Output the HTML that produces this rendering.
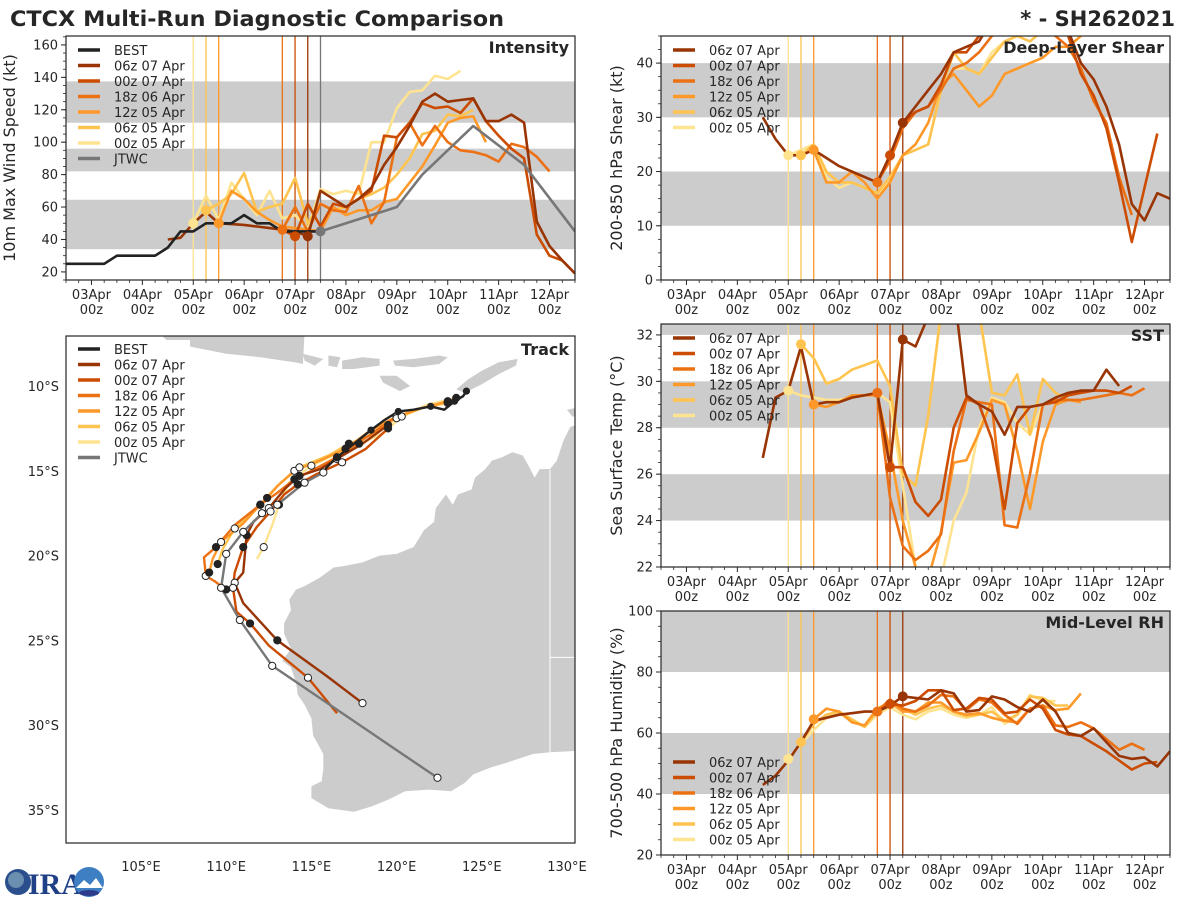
<!DOCTYPE html>
<html><head><meta charset="utf-8"><title>CTCX Multi-Run Diagnostic Comparison</title>
<style>
html,body{margin:0;padding:0;background:#fff;}
svg{display:block;font-family:"DejaVu Sans","Liberation Sans",sans-serif;}
</style></head>
<body>
<svg id="chart" width="1200" height="900" viewBox="0 0 1200 900" xmlns="http://www.w3.org/2000/svg">
<text x="10" y="26" font-size="21" font-weight="bold" fill="#262626" textLength="494" lengthAdjust="spacingAndGlyphs">CTCX Multi-Run Diagnostic Comparison</text>
<text x="1175" y="26" font-size="21" font-weight="bold" fill="#262626" text-anchor="end">* - SH262021</text>
<g id="layer"></g>
<g>
<circle cx="18" cy="882" r="13" fill="#2b4f8c"/>
<circle cx="16" cy="880" r="8" fill="#6a8fb0"/>
<text x="28" y="894" font-size="30" font-weight="bold" fill="#1f3f86" font-family="Liberation Serif,serif">IRA</text>
<circle cx="89" cy="882" r="15" fill="#3d7fc2"/>
<path d="M76 888 L84 880 L90 885 L96 878 L103 888 Z" fill="#fff"/>
<ellipse cx="89" cy="893" rx="10" ry="3" fill="#2d3c8a"/>
</g>
</svg>
<script>
// ---------- time-series data (t = days since 03Apr 00z, 6-hourly) ----------
const runNames = ["06z 07 Apr","00z 07 Apr","18z 06 Apr","12z 05 Apr","06z 05 Apr","00z 05 Apr"];
const runColors = ["#993404","#cc4c02","#ec7014","#fe9929","#fec44f","#fee391"];
const runInit = [4.25, 4.0, 3.75, 2.5, 2.25, 2.0];
const intStart = [1.5, 3.75, 3.75, 2.5, 2.25, 2.0];
const intRun1 = [40,41,50,57,50,49.5,49,48,47,46,45,42,70,65,60,65,72,86,97,110,125,130,125,126,127,113,113,117,112,51,36,27,19];
const intRun2 = [46,42,62,48,62,60,65,70,104,103,112,124,121,122,118,127,113,104,96,90,43,30,27,19];
const intRun3 = [46,60,45,62,58,57,73,50,63,103,112,98,110,100,95,94,92,88,99,97,91,82];
const intRun4 = [50,70,65,57,52,48,47,46,45,60,55,58,58,63,65,75,85,98,112,115,116,100];
const intRun5 = [58,62,68,81,57,60,62,78,50,62,58,60,65,68,72,80,90,105,107,117,116,120];
const intRun6 = [50,67,52,75,65,55,70,53,55,47,71,68,70,68,100,100,121,131,132,141,139,144];
const bestStart = -0.5;
const bestInt = [25,25,25,25,30,30,30,30,35,45,45,50,50,50,55,50,50,45,45,45,45];
const jtwcTimes = [4.5,5,6,6.5,7.5,8.5,9.5];
const jtwcInt = [45,50,60,80,110,86,45];

const shrStart = [1.5, 3.75, 3.75, 2.5, 2.25, 2.0];
const shrRun1 = [30,26,23,23,24,22.5,21,20,19,18,23,29,32,35,38,42,43,44,48,50,50,50,50,50,46,40,37,32,25,14,11,16,15];
const shrRun2 = [18,23,29,31,32,36,42,42,45,48,50,50,50,50,50,45,38,34,28,18,7,17,27];
const shrRun3 = [18,22,28,31,32,35,39,40,42,45,48,50,48,47,45,43,39,33,29,19,12];
const shrRun4 = [24,18,18,20,18,15,18,23,25,29,36,38,35,32,34,38,39,40,41,43,43,45];
const shrRun5 = [23,25,20,18,18,17,16,19,23,24,25,35,42,39,38,41,44,45,44,46,46,46];
const shrRun6 = [23,24,25,19,17,18,17,16,18,23,24,25,35,39,39,38,42,44,45,46,46,46];

const sstStart = [1.5, 3.75, 3.75, 2.5, 2.25, 2.0];
const sstRun1 = [26.7,29.3,29.6,31.5,29.0,29.1,29.1,29.3,29.4,29.5,26.3,31.8,31.5,32.8,34,34,29.4,29.0,28.7,27.7,28.9,28.9,29.0,29.3,29.5,29.6,29.6,30.5,29.8];
const sstRun2 = [29.5,26.3,26.3,24.8,24.2,24.9,28.0,29.3,29.0,27.5,24.5,28.2,28.9,29.0,29.1,29.4,29.5,29.6,29.6,29.5,29.8];
const sstRun3 = [29.5,25.0,22.9,22.3,22.7,23.4,27.0,29.2,29.1,29.0,23.8,23.7,26.0,29.0,29.2,29.2,29.2,29.3,29.4,29.5,29.4,29.7];
const sstRun4 = [29.0,28.9,29.1,29.4,29.4,29.4,27,24,22.0,21.5,23.5,26.5,26.6,27.8,29.2,29.0,27.0,24.5,27.4,29.0,29.2,29.1];
const sstRun5 = [31.6,31.0,29.9,30.1,30.5,30.7,30.9,29.8,26.0,25.5,28.5,33,34,34,33,29.5,29.4,30.3,27.7,30.1,29.5,29.2];
const sstRun6 = [29.6,29.4,29.3,29.2,29.2,29.3,29.4,29.5,29.1,25.5,22.0,20,21.5,24.0,25.2,28.0,29.3,29.1,28.2,27.7,29.0,29.2];

const rhStart = [1.5, 3.75, 3.75, 2.5, 2.25, 2.0];
const rhRun1 = [43,46,51,57,64,65,66,66.5,67,67,69,72,71.5,71,74,73,67,67.5,72,71,68.5,67,71,67,60,59,61.5,57,52.5,51.5,52,49,54];
const rhRun2 = [67,69.5,69,70.5,74,74,67.5,68,71.5,71,66.5,67,71,68,61,59.5,59,56.5,54,51,48,50,50.5];
const rhRun3 = [67,71,68,67,69,72.5,72,67.5,71,70,66,63,68,69,62.5,62,63.5,61.5,58,54.5,56.5,54.5];
const rhRun4 = [64.5,68,67,63.5,62.5,68,70,67,67,70,70,67,66,66.5,65,64,63.5,68,69,67.5,68,73];
const rhRun5 = [57,63,66,67,64.5,62,67,71,68,66,68,69,67,65.5,66,67,64,66,72,71.5,69,69];
const rhRun6 = [51.5,56.5,61,65,66.5,64,62,66,68.5,66,64.5,67,68,66,65,66,68.5,63,66,72.5,70.5,70.5];

const dayLabels = ["03Apr","04Apr","05Apr","06Apr","07Apr","08Apr","09Apr","10Apr","11Apr","12Apr"];
const intTicks = [20,40,60,80,100,120,140,160];
const shrTicks = [0,10,20,30,40];
const sstTicks = [22,24,26,28,30,32];
const rhTicks = [20,40,60,80,100];

// ---------- track data (lon E, lat S) ----------
const bestLon = [124.1,123.9,123.4,122.8,122.0,121.0,120.1,119.3,118.5,117.5,116.5,115.9,115.7];
const bestLat = [10.3,10.6,10.9,11.4,11.2,11.4,11.5,12.0,12.6,13.4,14.2,14.8,15.1];
const jtwcLon = [115.7,114.6,113.0,112.1,111.0,110.0,109.7,110.8,112.7,122.4];
const jtwcLat = [15.1,15.7,17.0,17.5,18.6,19.9,21.9,23.8,26.5,33.1];
const trkLon1 = [119.5,118.0,116.5,115.5,114.3,113.5,112.5,111.6,111.2,111.0,110.5,111.0,113.0,115.9,118.0];
const trkLat1 = [12.3,13.4,14.3,14.9,15.3,16.0,17.2,18.0,18.8,21.0,21.6,22.8,25.0,27.1,28.7];
const trkLon2 = [119.5,118.2,116.8,115.3,114.2,113.4,112.6,111.8,111.0,110.5,110.4,110.6,111.4,112.5,114.8,116.5];
const trkLat2 = [12.5,13.7,14.5,15.2,15.8,16.4,17.4,18.3,19.5,21.0,21.9,23.3,24.0,25.3,27.2,29.3];
const trkLon3 = [120.0,118.4,116.5,115.0,114.0,113.0,112.0,110.5,109.4,108.7,108.8,109.3,110.0];
const trkLat3 = [11.8,12.9,14.2,15.0,15.5,16.3,17.0,18.2,19.5,20.1,21.2,21.5,22.0];
const trkLon4 = [123.0,121.5,120.0,118.5,117.0,115.5,114.0,113.0,112.0,111.0,109.7,109.2,109.0];
const trkLat4 = [10.9,11.3,11.8,12.6,13.7,14.4,15.0,15.9,17.0,18.1,19.2,20.2,21.0];
const trkLon5 = [123.0,121.5,120.0,118.5,117.2,116.0,114.3,113.2,112.4,111.6,110.5,109.8,109.5];
const trkLat5 = [11.0,11.3,11.9,12.9,13.4,14.1,14.8,15.7,16.6,17.4,18.4,19.6,20.5];
const trkLon6 = [123.5,121.8,120.3,119.2,117.8,116.5,115.0,113.7,113.1,112.7,112.2,111.8];
const trkLat6 = [10.7,11.1,11.8,12.8,13.4,14.0,14.7,15.7,17.0,18.2,19.5,20.2];
const lonTicks = [105,110,115,120,125,130];
const latTicks = [10,15,20,25,30,35];

const waCoast = [[131,12.2],[130.2,12.4],[129.8,13.2],[129.4,14.4],[129,14.9],[128.4,14.9],[128.1,15.4],[127.8,14.8],[127.4,14.1],[126.8,13.9],[126.2,14.2],[125.6,14.4],[125.2,14.9],[124.6,15.4],[124.4,16.1],[123.6,16.4],[123.3,17.0],[122.9,16.4],[122.3,17.2],[122.2,18.0],[121.6,18.5],[121.0,19.5],[120.0,19.9],[119.0,20.0],[118.0,20.4],[117.0,20.6],[116.3,20.7],[115.5,21.3],[114.6,21.8],[114.1,22.0],[113.7,22.6],[113.8,23.2],[113.4,24.0],[113.4,24.6],[113.8,25.5],[113.3,26.2],[113.8,26.6],[114.1,27.5],[114.2,28.2],[114.6,28.8],[115.0,29.6],[115.1,30.6],[115.7,31.7],[115.7,32.6],[115.6,33.3],[115.0,33.6],[115.0,34.3],[116.0,34.9],[117.5,35.1],[118.5,34.8],[119.5,34.4],[120.5,33.9],[121.9,33.8],[123.2,33.9],[124.0,33.4],[124.5,32.9],[125.5,32.5],[126.5,32.2],[128,31.7],[129,31.6],[131,31.5]];
const islands = [
 [[100,6.8],[106,6.8],[106.5,7.3],[108,7.7],[110,8.1],[112,8.3],[114,8.6],[114.5,8.7],[114.6,6.8]],
 [[114.5,8.1],[115.7,8.4],[115.2,8.8],[114.6,8.5]],
 [[116,8.2],[116.7,8.3],[116.5,8.9],[116,8.8]],
 [[116.8,8.5],[118,8.3],[119,8.4],[119,8.8],[117.5,9.0],[116.8,9.0]],
 [[119.8,8.5],[121,8.4],[122.5,8.2],[123,8.3],[122.5,8.7],[121,8.9],[119.9,8.8]],
 [[119,9.4],[120,9.4],[120.8,10.0],[120.2,10.3],[119.2,9.8]],
 [[123.5,10.2],[124.2,9.6],[125,9.1],[126,8.6],[127.1,8.4],[127,8.8],[126,9.3],[125,9.9],[124,10.4]],
 [[130,11.4],[131,11.2],[131,11.8],[130.3,11.8]]
];

// ---------- helpers ----------
const NS = "http://www.w3.org/2000/svg";
const layer = document.getElementById("layer");
function mk(tag, attrs, parent) {
  const e = document.createElementNS(NS, tag);
  for (const k in attrs) e.setAttribute(k, attrs[k]);
  (parent || layer).appendChild(e);
  return e;
}
const TXT = "#262626";
function timeX(x0, x1) { return t => x0 + (t + 0.5) / 10 * (x1 - x0); }
function linY(y0, y1, vmin, vmax) { return v => y1 - (v - vmin) / (vmax - vmin) * (y1 - y0); }

function timePanel(o) {
  const g = mk("g", {});
  
  
  const X = timeX(o.x0, o.x1), Y = linY(o.y0, o.y1, o.vmin, o.vmax);
  const cid = "clip-" + o.name;
  const cp = mk("clipPath", {id: cid}, g);
  mk("rect", {x: o.x0, y: o.y0, width: o.x1 - o.x0, height: o.y1 - o.y0}, cp);
  const body = mk("g", {"clip-path": "url(#" + cid + ")"}, g);
  o.bands.forEach(b => {
    const r = mk("rect", {x: o.x0, y: Y(b[1]), width: o.x1 - o.x0, height: Y(b[0]) - Y(b[1]), fill: "#cccccc"}, body);
    
    
  });
  // init lines
  runInit.forEach((t, i) => {
    const l = mk("line", {x1: X(t), x2: X(t), y1: o.y0, y2: o.y1, stroke: runColors[i], "stroke-width": 1.3}, body);
    
    
  });
  if (o.jtwcLine) {
    const l = mk("line", {x1: X(4.5), x2: X(4.5), y1: o.y0, y2: o.y1, stroke: "#777", "stroke-width": 1.3}, body);
    
    
  }
  const drawSeries = (ts, vals, color, name) => {
    const pts = vals.map((v, k) => X(ts[k]).toFixed(1) + "," + Y(v).toFixed(1)).join(" ");
    const p = mk("polyline", {points: pts, fill: "none", stroke: color, "stroke-width": 2.6, "stroke-linejoin": "round"}, body);
    
    
  };
  for (let i = o.series.length - 1; i >= 0; i--) {
    const vals = o.series[i], st = o.starts[i];
    const ts = vals.map((_, k) => st + k * 0.25);
    drawSeries(ts, vals, runColors[i], 'series-' + runNames[i].replace(/ /g, '-').toLowerCase());
  }
  if (o.best) {
    const ts = o.best.map((_, k) => bestStart + k * 0.25);
    drawSeries(ts, o.best, "#222222", 'series-best');
    drawSeries(jtwcTimes, jtwcInt, "#777777", 'series-jtwc');
  }
  // init markers
  for (let i = 0; i < o.series.length; i++) {
    const k = Math.round((runInit[i] - o.starts[i]) / 0.25);
    const v = o.series[i][k];
    if (v === undefined) continue;
    const c = mk("circle", {cx: X(runInit[i]), cy: Y(v), r: 5, fill: runColors[i]}, body);
    
    
  }
  if (o.best) {
    const c = mk("circle", {cx: X(jtwcTimes[0]), cy: Y(jtwcInt[0]), r: 5, fill: "#777"}, body);
    
    
  }
  // frame
  mk("rect", {x: o.x0, y: o.y0, width: o.x1 - o.x0, height: o.y1 - o.y0, fill: "none", stroke: "#262626", "stroke-width": 1.2}, g);
  // x ticks
  for (let d = 0; d < dayLabels.length; d++) {
    const x = X(d);
    mk("line", {x1: x, x2: x, y1: o.y1, y2: o.y1 + 5, stroke: TXT, "stroke-width": 1}, g);
    const t1 = mk("text", {x: x, y: o.y1 + 19, "font-size": 13, fill: TXT, "text-anchor": "middle"}, g);
    t1.textContent = dayLabels[d];
    
    
    const t2 = mk("text", {x: x, y: o.y1 + 34, "font-size": 13, fill: TXT, "text-anchor": "middle"}, g);
    t2.textContent = "00z";
  }
  for (let t = -0.5; t <= 9.5; t += 0.25) {
    if (Math.abs(t - Math.round(t)) < 0.01) continue;
    const x = X(t);
    mk("line", {x1: x, x2: x, y1: o.y1, y2: o.y1 + 3, stroke: TXT, "stroke-width": 0.8}, g);
  }
  // y ticks
  o.ticks.forEach(v => {
    const y = Y(v);
    mk("line", {x1: o.x0 - 5, x2: o.x0, y1: y, y2: y, stroke: TXT, "stroke-width": 1}, g);
    const t = mk("text", {x: o.x0 - 8, y: y + 4.5, "font-size": 13, fill: TXT, "text-anchor": "end"}, g);
    t.textContent = v;
    
    
  });
  for (let v = o.vmin; v <= o.vmax; v += o.minor) {
    const y = Y(v);
    mk("line", {x1: o.x0 - 3, x2: o.x0, y1: y, y2: y, stroke: TXT, "stroke-width": 0.8}, g);
  }
  const ylab = mk("text", {x: 0, y: 0, "font-size": 16, fill: TXT, "text-anchor": "middle", transform: "translate(" + o.ylx + "," + ((o.y0 + o.y1) / 2) + ") rotate(-90)"}, g);
  ylab.textContent = o.ylabel;
  
  
  const ttl = mk("text", {x: o.x1 - 6, y: o.y0 + 17, "font-size": 16, "font-weight": "bold", fill: TXT, "text-anchor": "end"}, g);
  ttl.textContent = o.title;
  
  
  legend(g, o.x0 + 10, o.legY, o.best ? true : false);
}
function legend(g, x, y, withObs) {
  const names = withObs ? ["BEST"].concat(runNames, ["JTWC"]) : runNames;
  const cols = withObs ? ["#222222"].concat(runColors, ["#777777"]) : runColors;
  names.forEach((n, i) => {
    const yy = y + i * 15.5;
    const l = mk("line", {x1: x + 2, x2: x + 24, y1: yy, y2: yy, stroke: cols[i], "stroke-width": 3.5}, g);
    
    
    const t = mk("text", {x: x + 38, y: yy + 5, "font-size": 13, fill: TXT}, g);
    t.textContent = n;
    
    
  });
}

timePanel({name: "intensity-panel", x0: 66, x1: 575, y0: 36, y1: 280, vmin: 15, vmax: 165.5, minor: 5,
  bands: [[34, 64.5], [82, 96], [112, 137.5]], ticks: intTicks, ylabel: "10m Max Wind Speed (kt)", ylx: 15,
  title: "Intensity", legY: 50, jtwcLine: true, best: bestInt,
  series: [intRun1, intRun2, intRun3, intRun4, intRun5, intRun6], starts: intStart});
timePanel({name: "shear-panel", x0: 661, x1: 1170, y0: 36, y1: 280, vmin: 0, vmax: 45, minor: 2.5,
  bands: [[10, 20], [30, 40]], ticks: shrTicks, ylabel: "200-850 hPa Shear (kt)", ylx: 622,
  title: "Deep-Layer Shear", legY: 50,
  series: [shrRun1, shrRun2, shrRun3, shrRun4, shrRun5, shrRun6], starts: shrStart});
timePanel({name: "sst-panel", x0: 661, x1: 1170, y0: 324, y1: 567, vmin: 22, vmax: 32.47, minor: 0.5,
  bands: [[24, 26], [28, 30], [32, 33]], ticks: sstTicks, ylabel: "Sea Surface Temp (°C)", ylx: 622,
  title: "SST", legY: 338,
  series: [sstRun1, sstRun2, sstRun3, sstRun4, sstRun5, sstRun6], starts: sstStart});
timePanel({name: "rh-panel", x0: 661, x1: 1170, y0: 611, y1: 855, vmin: 20, vmax: 100, minor: 5,
  bands: [[40, 60], [80, 100]], ticks: rhTicks, ylabel: "700-500 hPa Humidity (%)", ylx: 622,
  title: "Mid-Level RH", legY: 762,
  series: [rhRun1, rhRun2, rhRun3, rhRun4, rhRun5, rhRun6], starts: rhStart});

// ---------- track map ----------
(function () {
  const x0 = 66, x1 = 575, y0 = 336, y1 = 843;
  const LX = lon => 141 + (lon - 105) * 17.04;
  const LY = lat => 386 + (lat - 10) * 16.96;
  const g = mk("g", {});
  
  
  const cp = mk("clipPath", {id: "clip-track"}, g);
  mk("rect", {x: x0, y: y0, width: x1 - x0, height: y1 - y0}, cp);
  const body = mk("g", {"clip-path": "url(#clip-track)"}, g);
  const poly = (arr, name) => {
    const p = mk("polygon", {points: arr.map(p => LX(p[0]).toFixed(1) + "," + LY(p[1]).toFixed(1)).join(" "), fill: "#cccccc"}, body);
    
    
  };
  poly(waCoast, 'australia-land');
  islands.forEach(a => poly(a, 'island-land'));
  mk("line", {x1: LX(129), x2: LX(129), y1: LY(14.95), y2: LY(31.6), stroke: "#fff", "stroke-width": 1}, body);
  mk("line", {x1: LX(129), x2: LX(131), y1: LY(26), y2: LY(26), stroke: "#fff", "stroke-width": 1}, body);
  const trk = (lons, lats, color, name, marks) => {
    const pts = lons.map((lo, k) => LX(lo).toFixed(1) + "," + LY(lats[k]).toFixed(1)).join(" ");
    const p = mk("polyline", {points: pts, fill: "none", stroke: color, "stroke-width": 2.4, "stroke-linejoin": "round"}, body);
    
    
    if (marks) lons.forEach((lo, k) => {
      const c = mk("circle", {cx: LX(lo), cy: LY(lats[k]), r: 3.6, fill: k % 2 ? "#fff" : "#222", stroke: "#222", "stroke-width": 1}, body);
      
      
    });
  };
  const tl = [trkLon1, trkLon2, trkLon3, trkLon4, trkLon5, trkLon6];
  const tt = [trkLat1, trkLat2, trkLat3, trkLat4, trkLat5, trkLat6];
  for (let i = 5; i >= 0; i--) trk(tl[i], tt[i], runColors[i], 'track-' + runNames[i].replace(/ /g, '-').toLowerCase(), false);
  trk(bestLon, bestLat, "#222222", 'track-best', false);
  trk(jtwcLon, jtwcLat, "#777777", 'track-jtwc', false);
  for (let i = 0; i < 6; i++) {
    tl[i].forEach((lo, k) => {
      if (k % 2) return;
      const c = mk("circle", {cx: LX(lo), cy: LY(tt[i][k]), r: 3.6, fill: (k / 2) % 2 ? "#fff" : "#222", stroke: "#222", "stroke-width": 1}, body);
      
      
    });
  }
  bestLon.forEach((lo, k) => {
    if (k % 2) return;
    const c = mk("circle", {cx: LX(lo), cy: LY(bestLat[k]), r: 3.6, fill: "#222"}, body);
    
    
  });
  jtwcLon.forEach((lo, k) => {
    const c = mk("circle", {cx: LX(lo), cy: LY(jtwcLat[k]), r: 3.6, fill: "#fff", stroke: "#222", "stroke-width": 1}, body);
    
    
  });
  mk("rect", {x: x0, y: y0, width: x1 - x0, height: y1 - y0, fill: "none", stroke: "#262626", "stroke-width": 1.2}, g);
  lonTicks.forEach(v => {
    const t = mk("text", {x: LX(v), y: y1 + 28, "font-size": 13, fill: TXT, "text-anchor": "middle"}, g);
    t.textContent = v + "°E";
    
    
  });
  latTicks.forEach(v => {
    const t = mk("text", {x: x0 - 7, y: LY(v) + 5, "font-size": 13, fill: TXT, "text-anchor": "end"}, g);
    t.textContent = v + "°S";
    
    
  });
  const ttl = mk("text", {x: x1 - 6, y: y0 + 19, "font-size": 16, "font-weight": "bold", fill: TXT, "text-anchor": "end"}, g);
  ttl.textContent = "Track";
  
  
  const bg = mk("rect", {x: x0 + 4, y: y0 + 4, width: 120, height: 128, fill: "#fff"}, g);
  legend(g, x0 + 10, y0 + 13, true);
})();
</script>
</body></html>
